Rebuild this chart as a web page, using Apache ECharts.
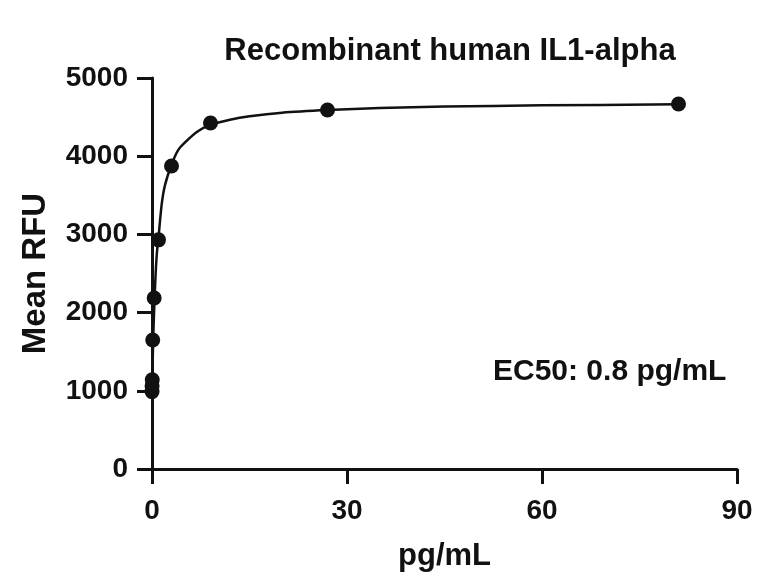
<!DOCTYPE html>
<html>
<head>
<meta charset="utf-8">
<script src="https://cdn.jsdelivr.net/npm/echarts@6/dist/echarts.min.js"></script>
<style>html,body{margin:0;padding:0;background:#fff}#c{width:769px;height:587px}</style>
</head>
<body>
<div id="c"></div>
<script>
// Measured data points (pg/mL, Mean RFU)
const doseX = [81, 27, 9, 3, 1, 0.333, 0.111, 0.037, 0.0123, 0.0041];
const meanRFU = [4668, 4590, 4425, 3875, 2930, 2187, 1650, 1140, 1060, 990];
// Fitted curve
const curveX = [0, 0.1, 0.25, 0.5, 0.75, 1, 1.5, 2, 3, 4, 5, 7, 9, 12, 15, 20, 27, 35, 45, 60, 81];
const curveY = [990, 1370, 1840, 2390, 2760, 2960, 3390, 3630, 3890, 4075, 4170, 4316, 4400, 4466, 4510, 4556, 4590, 4616, 4634, 4650, 4663];
const xTicks = [0, 30, 60, 90];
const yTicks = [0, 1000, 2000, 3000, 4000, 5000];

const FONT = '"Liberation Sans", Arial, sans-serif';
const chart = echarts.init(document.getElementById('c'), null, {renderer: 'canvas'});
chart.setOption({
  animation: false,
  backgroundColor: '#fff',
  title: {
    text: 'Recombinant human IL1-alpha',
    left: 445, top: 31, textAlign: 'center',
    textStyle: {fontFamily: FONT, fontWeight: 'bold', fontSize: 31, color: '#111'}
  },
  grid: {left: 152, right: 32, top: 78, bottom: 118},
  xAxis: {
    type: 'value', min: xTicks[0], max: xTicks[xTicks.length - 1], interval: 30,
    name: 'pg/mL', nameLocation: 'middle', nameGap: 72,
    nameTextStyle: {fontFamily: FONT, fontWeight: 'bold', fontSize: 31, color: '#111'},
    axisLine: {onZero: false, lineStyle: {color: '#111', width: 3}},
    axisTick: {show: true, length: 15, lineStyle: {color: '#111', width: 3}},
    axisLabel: {margin: 28, fontFamily: FONT, fontWeight: 'bold', fontSize: 28, color: '#111',
      formatter: v => String(v)},
    splitLine: {show: false}
  },
  yAxis: {
    type: 'value', min: yTicks[0], max: yTicks[yTicks.length - 1], interval: 1000,
    name: 'Mean RFU', nameLocation: 'middle', nameGap: 100,
    nameTextStyle: {fontFamily: FONT, fontWeight: 'bold', fontSize: 33, color: '#111'},
    axisLine: {show: true, onZero: false, lineStyle: {color: '#111', width: 3}},
    axisTick: {show: true, length: 15, lineStyle: {color: '#111', width: 3}},
    axisLabel: {margin: 24, fontFamily: FONT, fontWeight: 'bold', fontSize: 28, color: '#111',
      formatter: v => String(v)},
    splitLine: {show: false}
  },
  graphic: [{
    type: 'text', left: 493, top: 357,
    style: {text: 'EC50: 0.8 pg/mL', font: 'bold 30px ' + FONT, fill: '#111'}
  }],
  series: [
    {
      type: 'line', data: curveX.map((x, i) => [x, curveY[i]]),
      smooth: 0.3, showSymbol: false, lineStyle: {color: '#111', width: 2.5}, z: 2
    },
    {
      type: 'scatter', data: doseX.map((x, i) => [x, meanRFU[i]]),
      symbol: 'circle', symbolSize: 15, itemStyle: {color: '#111', opacity: 1}, z: 3
    }
  ]
});
</script>
</body>
</html>
